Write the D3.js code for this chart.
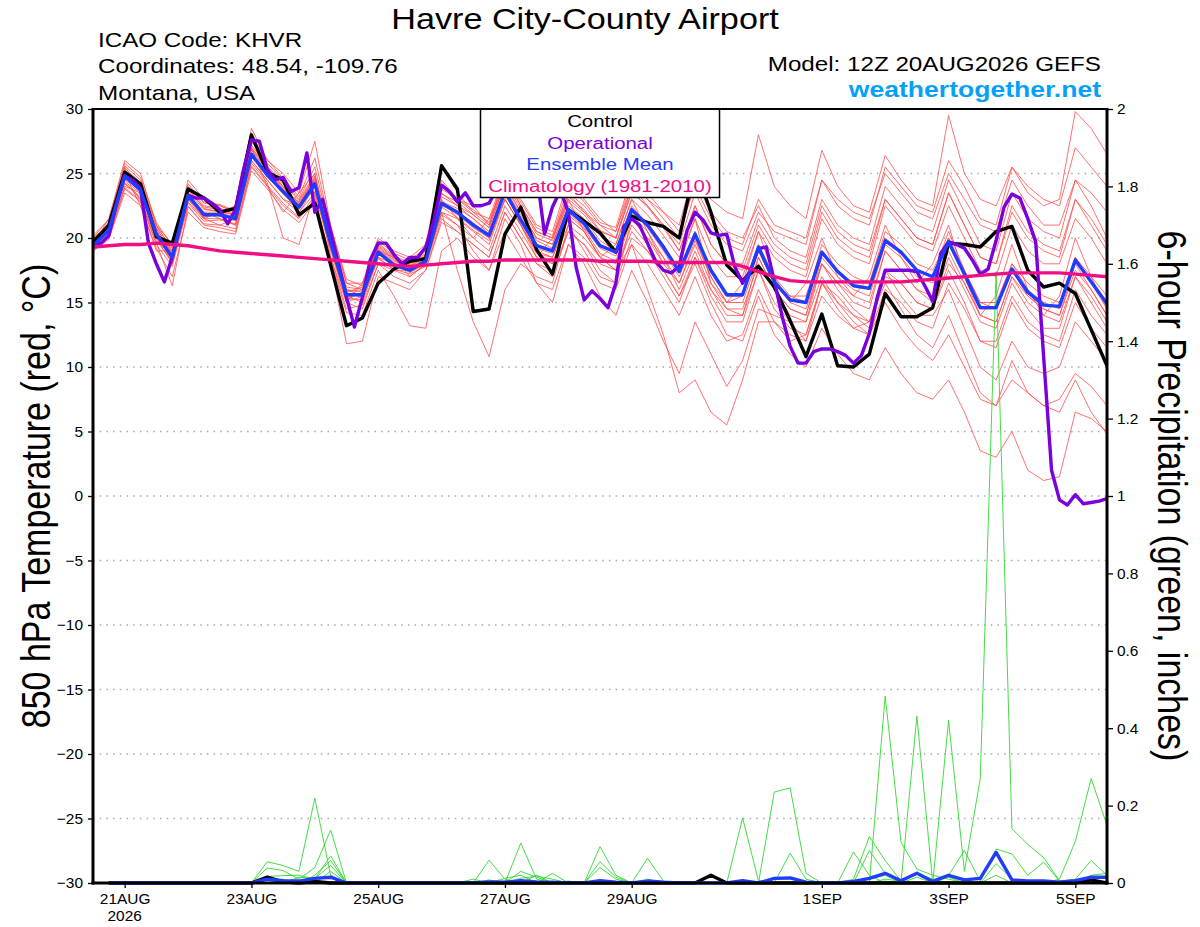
<!DOCTYPE html>
<html>
<head>
<meta charset="utf-8">
<script src="https://cdn.jsdelivr.net/npm/d3@7"></script>
<style>
  body { margin: 0; background: #fff; }
  svg { font-family: "Liberation Sans", Arial, Helvetica, sans-serif; }
</style>
</head>
<body>
<svg id="chart" width="1200" height="927"></svg>
<script>
// forecast run 12Z 20AUG2026, 6-hourly ensemble steps, 3-hourly operational
const startTime = Date.UTC(2026, 7, 20, 12);
const hours6 = d3.range(0, 385, 6);
const hours3 = d3.range(0, 385, 3);
const precipHours = d3.range(6, 385, 6); // accumulations end at each step

const tickDays = [Date.UTC(2026,7,21), Date.UTC(2026,7,23), Date.UTC(2026,7,25), Date.UTC(2026,7,27),
                  Date.UTC(2026,7,29), Date.UTC(2026,8,1), Date.UTC(2026,8,3), Date.UTC(2026,8,5)];
const tickLabels = ["21AUG", "23AUG", "25AUG", "27AUG", "29AUG", "1SEP", "3SEP", "5SEP"];
const tempTicks = [-30, -25, -20, -15, -10, -5, 0, 5, 10, 15, 20, 25, 30];
const precipTicks = [0, 0.2, 0.4, 0.6, 0.8, 1, 1.2, 1.4, 1.6, 1.8, 2];

// 850 hPa temperature, deg C
const control = [19.7,21.0,25.1,24.2,20.1,19.6,23.8,23.1,22.0,22.3,
  28.0,25.1,24.5,21.8,22.7,17.9,13.2,13.8,16.5,17.6,
  18.2,18.4,25.6,23.8,14.3,14.5,20.3,22.4,19.1,17.2,
  22.2,21.3,20.4,18.9,21.7,21.2,20.9,20.0,25.5,22.0,
  17.9,16.7,17.8,16.2,13.6,10.8,14.1,10.1,10.0,11.0,
  15.7,13.9,13.9,14.6,19.6,19.5,19.3,20.5,20.9,17.5,
  16.2,16.5,15.7,12.9,10.1];
const ensMean = [19.4,20.6,24.8,23.7,20.3,18.5,23.3,21.8,21.8,21.5,
  26.5,24.9,23.6,22.4,24.2,19.6,15.6,15.6,18.9,17.9,
  17.5,18.2,22.7,22.0,21.0,20.2,23.6,21.4,19.4,19.0,
  22.2,21.1,19.4,18.9,22.2,21.0,19.3,17.4,20.3,17.5,
  15.6,15.6,19.3,16.6,15.2,15.0,18.9,17.4,16.3,16.1,
  19.8,18.9,17.5,17.0,19.7,17.2,14.6,14.6,17.6,15.8,
  14.8,14.7,18.3,16.6,14.9];
const operational = [19.5,19.6,20.2,22.7,24.8,24.5,23.8,19.6,18.0,16.6,
  18.5,20.9,23.3,23.1,23.1,22.7,22.2,21.1,22.2,25.3,
  27.6,27.5,25.3,24.5,24.7,23.6,23.9,26.6,22.0,23.0,
  20.5,18.0,15.4,13.1,15.4,18.3,19.6,19.6,18.7,18.0,
  18.5,18.5,19.3,21.3,24.1,23.6,22.8,23.5,22.5,22.5,
  22.7,23.8,24.5,24.0,23.5,24.2,25.0,20.3,22.4,23.7,
  22.0,17.7,15.2,15.9,15.3,14.6,16.5,20.9,21.5,21.0,
  19.6,18.2,17.5,17.3,17.8,20.6,22.0,21.4,20.4,20.2,
  20.3,17.8,16.5,17.5,19.2,19.3,16.7,13.9,11.6,10.3,
  10.3,11.2,11.4,11.4,11.2,10.9,10.3,10.9,12.6,15.4,
  17.5,17.5,17.5,17.5,17.4,16.3,15.1,18.8,19.7,19.5,
  19.2,18.3,17.2,17.6,19.8,22.4,23.4,23.1,21.5,19.7,
  10.8,2.0,-0.3,-0.7,0.1,-0.6,-0.5,-0.4,-0.2];
const climatology = [19.3,19.4,19.5,19.5,19.6,19.5,19.4,19.2,19.0,18.9,
  18.8,18.7,18.6,18.5,18.4,18.3,18.2,18.1,18.0,17.9,
  17.8,17.9,18.0,18.1,18.2,18.2,18.3,18.3,18.3,18.3,
  18.3,18.3,18.2,18.2,18.2,18.2,18.1,18.1,18.1,18.1,
  18.1,17.8,17.4,17.0,16.7,16.6,16.6,16.6,16.6,16.6,
  16.6,16.6,16.7,16.8,16.9,17.0,17.1,17.2,17.3,17.3,
  17.3,17.3,17.2,17.1,17.0];

// ensemble members, 850 hPa temperature
const m01 = [19.8,21.2,25.6,24.5,21.0,19.5,24.0,22.8,22.5,22.0,27.5,25.8,24.5,23.0,25.5,20.5,16.5,16.0,19.5,18.5,18.0,19.0,
  24.0,23.0,22.5,21.0,24.5,22.5,20.5,20.0,23.5,22.0,21.0,20.0,24.0,22.5,21.0,19.0,22.5,19.5,18.0,17.5,21.0,
  19.0,18.0,17.5,22.0,20.0,19.0,18.5,23.0,21.5,20.0,19.5,23.5,21.0,18.5,18.0,22.0,20.0,19.0,18.5,23.0,21.5,19.5];
const m02 = [19.0,20.0,23.8,22.8,19.5,17.8,22.5,21.0,20.8,20.5,25.5,24.0,22.5,21.5,23.0,18.5,14.5,14.8,18.0,17.0,16.5,17.5,
  21.5,20.5,19.5,18.5,22.0,20.0,18.0,17.5,20.5,19.5,18.0,17.5,20.5,19.0,17.5,15.5,18.5,15.5,13.5,13.5,17.5,
  14.5,13.0,12.5,16.5,15.0,14.0,13.5,17.5,16.5,15.0,14.5,17.5,15.0,12.0,12.0,15.5,13.5,12.5,12.0,16.0,14.0,12.5];
const m03 = [19.5,21.5,25.0,22.5,19.0,19.0,23.5,21.5,22.0,22.5,27.0,24.0,22.0,23.5,25.0,18.5,15.0,16.5,19.0,18.5,17.0,18.0,
  23.0,21.5,20.0,21.5,24.0,21.0,18.5,20.0,23.0,20.5,18.5,19.5,23.0,20.5,18.0,18.0,21.5,16.5,15.0,16.5,20.5,
  17.0,15.0,16.5,20.0,17.0,15.5,17.0,21.0,18.5,16.5,18.0,21.0,17.0,14.0,15.5,19.5,16.0,14.0,15.5,20.0,17.0,14.5];
const m04 = [20.0,21.0,25.5,24.0,20.5,18.8,23.5,22.0,22.0,21.5,27.0,25.5,24.0,22.5,24.5,20.0,16.0,15.5,19.0,18.0,17.8,18.5,
  23.5,22.5,21.5,20.5,24.0,22.0,20.0,19.5,23.0,22.0,20.5,20.0,23.5,22.5,21.0,19.5,23.5,21.0,19.5,19.0,22.0,
  20.5,20.0,19.5,24.5,22.5,21.5,21.0,25.5,24.0,22.5,22.0,26.0,24.0,21.5,21.0,25.5,23.5,22.5,23.0,29.8,28.5,26.5];
const m05 = [19.2,20.2,24.0,23.5,20.0,18.0,22.8,21.5,21.5,21.0,26.0,24.5,23.0,22.0,23.5,19.0,15.0,15.5,18.5,17.5,17.0,18.0,
  22.0,21.5,20.5,19.5,23.0,21.0,19.0,18.5,21.5,20.5,18.5,17.5,21.0,19.5,17.5,15.5,18.0,15.0,12.5,12.0,15.5,
  12.5,11.0,10.0,13.0,11.0,9.5,9.0,11.5,9.5,8.0,7.5,9.0,6.5,3.5,3.0,5.0,2.0,1.2,1.5,6.5,6.0,5.0];
const m06 = [19.6,20.8,24.5,23.0,20.0,18.5,23.0,22.0,21.5,21.0,26.5,25.0,23.5,22.0,24.0,19.5,15.5,15.0,18.5,18.0,17.5,18.5,
  22.5,22.0,21.0,20.0,23.0,21.0,19.0,18.0,21.5,20.5,18.5,17.5,19.5,16.0,12.5,8.0,9.0,6.5,5.5,9.0,13.5,
  13.5,12.0,12.5,16.5,14.5,13.0,13.5,17.5,15.5,14.0,14.0,16.0,13.0,10.0,9.0,12.0,10.0,9.5,10.0,13.5,12.0,10.5];
const m07 = [19.4,20.5,25.0,24.0,20.5,18.0,23.0,21.5,21.0,21.5,26.0,24.5,23.0,22.5,24.5,20.0,15.0,14.5,18.0,17.5,17.5,18.0,
  22.0,21.0,19.0,17.5,21.5,19.5,16.5,15.0,19.5,18.0,15.5,14.0,17.5,15.0,12.0,9.5,13.5,11.0,8.5,10.5,14.5,
  14.0,13.5,12.0,16.5,15.5,14.0,13.0,17.0,16.5,15.0,14.5,18.0,16.5,14.0,13.5,17.0,15.5,14.5,14.0,17.5,16.0,14.0];
const m08 = [19.8,21.0,24.2,23.2,20.8,18.8,23.8,22.3,22.0,21.8,26.8,25.2,23.8,22.8,24.8,19.8,15.8,16.2,19.2,18.2,17.8,18.6,
  22.0,17.5,13.5,10.8,16.0,18.0,17.0,16.5,21.0,19.0,17.0,16.5,21.5,20.0,18.0,16.5,19.5,16.5,14.5,14.0,18.5,
  16.0,14.5,14.0,18.5,17.0,16.0,15.5,19.5,18.5,17.0,16.5,20.0,17.5,15.0,14.5,18.0,16.5,15.5,15.0,18.5,17.0,15.5];
const m09 = [20.0,21.5,26.0,25.0,21.0,19.0,24.5,23.0,22.5,22.0,28.5,26.0,25.0,23.5,27.5,21.0,16.5,16.5,20.0,19.0,18.5,19.5,
  25.5,23.5,22.0,21.0,25.0,23.0,21.0,20.5,24.5,23.0,21.5,20.5,24.5,23.0,22.0,21.0,25.5,23.0,22.0,21.5,28.0,
  24.0,22.5,21.5,26.8,24.0,22.5,22.0,26.4,24.5,23.0,22.5,29.5,25.0,23.0,22.5,25.5,24.0,23.0,22.5,27.0,25.5,24.0];
const m10 = [19.3,20.4,24.6,23.4,20.1,18.3,23.1,21.6,21.9,21.3,26.4,24.8,23.4,22.2,24.1,19.4,15.2,15.8,19.1,18.1,17.3,18.0,
  22.8,22.3,21.5,20.3,23.8,21.8,19.8,19.2,22.5,21.5,19.8,19.0,22.5,21.0,19.5,17.5,20.5,17.5,15.5,15.5,19.5,
  17.0,15.5,15.5,19.0,17.5,16.5,16.5,20.0,19.0,17.5,17.0,20.5,17.5,15.0,15.0,18.0,16.0,15.0,14.5,18.5,16.5,14.5];
const m11 = [19.5,20.7,24.9,23.8,20.2,18.6,23.4,21.9,21.7,21.6,26.6,25.0,23.7,22.3,24.3,19.7,15.7,15.4,18.8,17.8,17.6,18.3,
  22.6,21.8,20.8,20.0,23.4,21.2,19.2,18.8,22.0,20.8,19.2,18.6,22.0,20.8,19.0,17.0,20.0,17.0,15.0,15.0,18.5,
  16.0,14.0,13.5,17.0,15.0,13.5,12.5,15.0,13.0,11.5,10.5,12.5,10.0,7.5,7.0,9.0,8.0,7.0,7.5,9.5,8.5,7.0];
const m12 = [19.7,20.9,25.2,24.1,20.6,18.7,23.6,22.2,22.1,21.7,26.9,25.3,23.9,22.6,24.6,19.9,15.9,15.9,19.3,18.3,17.7,18.4,
  23.2,22.5,21.8,20.8,24.2,22.0,20.0,19.5,22.8,21.8,20.2,19.5,23.0,21.8,20.2,18.5,21.5,18.5,17.0,17.0,20.5,
  18.5,17.5,17.0,21.5,19.5,18.5,18.0,22.5,21.0,19.5,19.0,22.5,20.0,17.5,17.0,21.0,19.0,18.0,18.0,21.5,20.0,18.0];
const m13 = [19.1,20.3,24.3,23.0,19.8,18.2,22.7,21.3,21.4,21.1,25.8,24.3,20.0,19.5,23.6,19.2,15.3,15.2,18.4,17.6,17.2,17.8,
  21.8,21.0,20.0,19.0,22.5,20.5,18.5,18.0,21.0,20.0,18.5,18.0,21.5,20.0,18.5,16.0,19.0,16.0,14.0,14.0,17.5,
  15.0,13.5,13.5,18.0,16.5,15.0,14.5,19.0,17.5,16.0,15.0,18.5,16.0,13.5,13.0,16.5,14.5,13.0,13.0,17.0,15.0,13.0];
const m14 = [19.9,21.1,25.4,24.3,20.9,19.2,23.9,22.5,22.3,21.9,27.2,25.6,24.2,22.9,25.0,20.2,16.2,16.0,19.6,18.6,18.1,18.8,
  23.8,23.0,22.0,21.5,25.0,22.5,20.5,20.0,23.5,22.5,21.0,20.5,24.0,23.0,21.5,20.0,24.5,22.0,20.5,20.0,22.5,
  20.0,19.0,18.5,23.0,21.0,20.0,19.5,24.0,22.5,21.0,20.5,24.5,22.0,19.5,19.0,23.5,21.5,20.5,20.0,24.5,22.5,20.0];
const m15 = [19.0,19.9,23.5,22.5,19.2,17.0,22.0,20.8,20.5,20.3,25.2,23.8,22.2,21.2,22.8,18.3,14.2,14.0,17.5,15.5,13.2,13.0,
  19.0,20.0,18.5,17.5,20.5,18.5,16.5,16.0,19.5,18.5,16.5,16.0,19.5,18.0,16.0,14.0,17.0,14.0,12.0,12.5,16.0,
  13.5,12.5,12.0,15.5,14.0,13.0,12.5,16.0,15.0,13.5,13.0,16.5,14.5,12.0,11.5,15.0,13.0,12.0,11.5,15.0,13.0,11.5];
const m16 = [19.4,20.6,24.7,23.6,20.4,18.4,23.2,21.7,21.8,21.4,26.3,24.7,23.5,22.3,24.0,19.5,15.4,15.7,18.9,17.9,17.4,18.1,
  22.7,22.0,21.2,20.2,23.5,21.5,19.5,19.0,22.2,21.2,19.5,19.0,22.3,21.2,19.5,17.5,20.5,17.5,15.5,15.5,19.0,
  16.5,15.0,14.5,18.0,16.0,14.5,13.5,16.5,14.5,12.5,11.5,14.0,11.0,8.0,7.0,10.5,8.0,7.0,6.5,9.0,6.5,4.8];
const m17 = [19.6,20.7,25.0,23.9,20.3,18.5,23.3,21.8,21.9,21.5,26.6,24.9,23.6,22.4,24.3,19.6,15.6,15.6,18.9,17.9,17.5,18.2,
  22.4,21.6,20.6,19.8,23.0,21.0,18.8,18.5,21.8,20.7,18.8,18.2,21.8,20.5,18.5,16.5,19.8,17.0,15.0,15.5,19.0,
  16.5,15.5,15.0,19.5,18.0,17.0,16.5,20.5,19.5,18.0,17.5,20.0,17.0,14.5,14.5,17.5,15.5,14.5,14.0,18.0,16.0,14.0];
const m18 = [20.2,21.4,25.8,24.7,21.2,19.4,24.2,22.7,22.6,22.1,27.8,26.1,24.6,23.2,26.2,20.8,16.8,16.3,19.8,18.8,18.3,19.2,
  24.5,23.0,22.2,21.2,24.8,22.8,20.8,20.2,24.0,22.8,21.2,20.8,24.8,23.5,22.0,20.5,24.0,21.5,20.0,19.5,23.0,
  21.0,20.5,20.0,24.5,23.0,22.0,21.5,25.0,23.5,22.0,21.5,25.0,23.0,21.0,20.5,24.5,22.5,21.0,21.0,24.5,23.5,22.0];
const m19 = [19.2,20.1,23.9,22.9,19.6,16.3,22.4,21.1,21.0,20.7,25.6,24.1,22.7,21.6,23.3,18.0,11.8,12.0,17.0,16.5,16.0,17.5,
  21.2,20.5,19.5,18.5,22.0,20.0,18.0,17.0,20.5,19.5,17.5,16.5,20.0,19.0,17.0,15.0,18.5,16.0,14.5,14.5,18.0,
  16.0,14.5,14.0,18.0,16.5,15.5,15.0,19.0,17.5,16.0,15.5,19.0,16.5,14.0,13.5,17.0,15.0,14.0,13.5,17.0,15.5,13.5];
const m20 = [19.8,21.0,25.3,24.2,20.7,19.0,23.7,22.4,22.2,21.8,27.0,25.4,24.0,22.7,24.7,20.1,16.0,15.8,19.4,18.4,17.9,18.7,
  23.4,22.8,21.8,20.8,24.3,22.3,20.3,19.8,23.2,22.2,20.6,20.0,23.6,22.4,20.8,19.0,22.5,19.5,18.0,18.0,21.5,
  19.5,18.5,18.0,22.5,20.5,19.5,19.0,23.0,21.5,20.0,19.5,23.5,21.0,18.5,18.0,22.5,20.5,19.5,19.0,23.0,21.0,19.0];
const members = [m01, m02, m03, m04, m05, m06, m07, m08, m09, m10, m11, m12, m13, m14, m15, m16, m17, m18, m19, m20];

// 6-hour precipitation, inches, steps ending at +6h ... +384h
const p01 = [0,0,0,0,0,0,0,0,0, 0,.055,.045,.03,.219,.02,0,0,0,0, 0,0,0,0,0,.059,.01,0,.02,0,
  0,0,0,0,0,.064,.005,0,0,0, 0,.168,.006,0,0,0,0,0,0,0, .005,0,0,0,0,0,0,0,0,0, 0,0,0,0,0];
const p02 = [0,0,0,0,0,0,0,0,0, 0,.039,.032,.01,.04,.137,0,0,0,0, 0,0,0,0,0,0,0,.103,.01,0,
  0,0,0,0,0,0,0,0,0,0, 0,0,0,.235,.246,.025,0,0,0,0, 0,0,0,0,0,0,0,0,0,0, 0,0,0,0,0];
const p03 = [0,0,0,0,0,0,0,0,0, 0,.017,.019,.02,.01,.07,0,0,0,0, 0,0,0,0,.01,0,0,.03,.015,0,
  0,0,.04,.01,0,0,0,0,0,0, 0,0,0,0,.077,.01,0,0,0,.084, .025,0,0,0,0,0,0,0,0,0, 0,0,0,0,0];
const p04 = [0,0,0,0,0,0,0,0,0, 0,0,.01,0,.02,.058,0,0,0,0, 0,0,.003,.003,0,0,0,0,0,.025,
  0,0,.094,.02,0,0,0,0,0,0, 0,0,0,0,0,0,0,0,.08,.02, 0,0,0,0,0,0,0,0,0,0, 0,0,0,0,0];
const p05 = [0,0,0,0,0,0,0,0,0, 0,0,0,.015,.012,.045,0,0,0,0, 0,0,0,0,0,0,.012,.02,0,0,
  0,0,.055,.015,0,0,0,0,0,0, 0,0,0,0,0,0,0,0,.01,.12, .058,.005,0,0,0,0,0,0,0,0, 0,0,0,0,0];
const p06 = [0,0,0,0,0,0,0,0,0, 0,.008,0,0,0,.03,0,0,0,0, 0,0,0,0,0,.008,0,.012,.018,.01,
  0,0,0,0,0,0,0,0,0,0, 0,0,0,0,0,0,0,0,0,0, .483,.105,.036,.02,.01,0,0,.02,0,0, 0,0,0,0,0];
const p07 = [0,0,0,0,0,0,0,0,0, 0,0,0,0,0,0,0,0,0,0, 0,0,0,0,0,0,0,0,0,0,
  0,0,0,0,0,0,0,0,0,0, 0,0,0,0,0,0,0,0,0,0, 0,0,.431,0,.42,.03,.27,1.58,.14,.1, .066,.006,0,0,0];
const p08 = [0,0,0,0,0,0,0,0,0, 0,0,0,0,0,0,0,0,0,0, 0,0,0,0,0,0,0,0,0,0,
  0,0,0,0,0,.01,0,0,0,0, 0,0,0,0,0,0,0,0,0,0, 0,0,0,0,.02,.084,.005,.088,.075,.02, .054,.005,.01,.058,.02];
const p09 = [0,0,0,0,0,0,0,0,0, 0,0,0,0,0,0,0,0,0,0, 0,0,0,0,0,0,0,0,0,0,
  0,0,0,0,0,0,0,0,0,0, 0,0,0,0,0,0,0,0,0,0, .01,.005,.025,.01,0,0,0,0,0,0, 0,.01,.107,.27,.149];
const p10 = [0,0,0,0,0,0,0,0,0, 0,0,0,0,0,0,0,0,0,0, 0,0,0,0,0,0,.005,0,0,0,
  .005,0,0,0,0,0,.004,0,0,0, 0,0,0,0,0,0,0,0,0,.01, .02,0,.015,0,.015,0,0,.05,.01,0, 0,0,0,.02,.025];
const precipMembers = [p01, p02, p03, p04, p05, p06, p07, p08, p09, p10];
const precipControl = [0,0,0,0,0,0,0,0,0, 0,.015,.003,0,.004,0,0,0,0,0, 0,0,0,0,0,0,0,0,0,0,
  0,0,0,0,0,0,0,0,0,.02, 0,0,0,0,0,0,0,0,0,0, 0,0,0,0,0,0,0,0,0,0, 0,0,0,.008,0];
const precipMean = [0,0,0,0,0,0,0,0,0, 0,.01,.006,.005,.012,.015,0,0,0,0, 0,0,0,0,0,.003,.002,.006,.003,.002,
  0,0,.006,.002,0,.005,.002,0,0,0, 0,.006,0,.012,.013,.002,0,0,.004,.012,
  .025,.006,.025,.004,.02,.008,.012,.079,.008,.005, .005,.002,.006,.015,.015];

const SX = 1.18;     // the reference's header text is drawn wide
const SX_TICK = 1.03;
const svg = d3.select("#chart");
const plotLeft = 93, plotRight = 1107, plotTop = 109, plotBottom = 883;

const toDate = h => new Date(startTime + h * 3600e3);
const x = d3.scaleUtc().domain([toDate(0), toDate(384)]).range([plotLeft, plotRight]);
const yT = d3.scaleLinear().domain([-30, 30]).range([plotBottom, plotTop]);
const yP = d3.scaleLinear().domain([0, 2]).range([plotBottom, plotTop]);

function put(x0, y0, str, size, opts = {}) {
  return svg.append("text")
    .attr("transform", `translate(${x0},${y0}) scale(${opts.sx || SX},1)`)
    .attr("text-anchor", opts.anchor || "start")
    .attr("font-size", size)
    .attr("font-weight", opts.weight || "normal")
    .attr("fill", opts.color || "#000")
    .text(str);
}
function widen(g, sx) {
  g.selectAll("text").each(function () {
    const t = d3.select(this);
    t.attr("x", (+t.attr("x") || 0) / sx).attr("transform", `scale(${sx},1)`);
  });
}

// grid
svg.append("g").selectAll("line")
  .data(tempTicks.filter(v => v > -30 && v < 30))
  .join("line")
  .attr("x1", plotLeft).attr("x2", plotRight)
  .attr("y1", d => yT(d)).attr("y2", d => yT(d))
  .attr("stroke", "#a8a8a8").attr("stroke-width", 1.3)
  .attr("stroke-dasharray", "1.5,5.2");

svg.append("clipPath").attr("id", "plot")
  .append("rect").attr("x", plotLeft).attr("y", plotTop)
  .attr("width", plotRight - plotLeft).attr("height", plotBottom - plotTop + 2);
const plot = svg.append("g").attr("clip-path", "url(#plot)");

const lineT = d3.line().x((d, i) => x(toDate(hours6[i]))).y(d => yT(d));
const lineOp = d3.line().x((d, i) => x(toDate(hours3[i]))).y(d => yT(d));
const lineP = d3.line().x((d, i) => x(toDate(precipHours[i]))).y(d => yP(d));

plot.append("g").selectAll("path").data(members).join("path")
  .attr("d", lineT).attr("fill", "none")
  .attr("stroke", "#ff4f4f").attr("stroke-width", 0.9).attr("stroke-opacity", 0.9);

plot.append("g").selectAll("path").data(precipMembers).join("path")
  .attr("d", lineP).attr("fill", "none")
  .attr("stroke", "#30d830").attr("stroke-width", 0.9);

const thick = (data, gen, color) => plot.append("path").datum(data).attr("d", gen)
  .attr("fill", "none").attr("stroke", color).attr("stroke-width", 3.4)
  .attr("stroke-linejoin", "round");

thick(precipControl, lineP, "#000");
thick(precipMean, lineP, "#1f3cff");
thick(control, lineT, "#000");
thick(operational, lineOp, "#7a00dc");
thick(ensMean, lineT, "#1f3cff");
thick(climatology, lineT, "#ee0f85");

// legend
svg.append("rect").attr("x", 480.5).attr("y", plotTop).attr("width", 239).attr("height", 88.5)
  .attr("fill", "#fff").attr("stroke", "#000").attr("stroke-width", 1.5);
const legendItems = ["Control", "Operational", "Ensemble Mean", "Climatology (1981-2010)"];
const legendColors = ["#000", "#7a00dc", "#1f3cff", "#ee0f85"];
legendItems.forEach((t, i) => put(600, 127 + i * 21.6, t, 17.3, { anchor: "middle", color: legendColors[i] }));

// axes
const axL = svg.append("g").attr("transform", `translate(${plotLeft},0)`)
  .call(d3.axisLeft(yT).tickValues(tempTicks).tickSize(5).tickPadding(5).tickFormat(d3.format("d")));
const axR = svg.append("g").attr("transform", `translate(${plotRight},0)`)
  .call(d3.axisRight(yP).tickValues(precipTicks).tickSize(6).tickPadding(4).tickFormat(d => String(+d.toFixed(1))));
const axB = svg.append("g").attr("transform", `translate(0,${plotBottom})`)
  .call(d3.axisBottom(x).tickValues(tickDays.map(d => new Date(d))).tickSize(5).tickPadding(5)
    .tickFormat((d, i) => tickLabels[i]));
[axL, axR, axB].forEach(g => {
  g.select(".domain").remove();
  g.selectAll(".tick line").attr("stroke", "#000").attr("stroke-width", 1.3);
  g.selectAll("text").attr("font-size", 15).attr("fill", "#000")
    .attr("font-family", "'Liberation Sans', Arial, sans-serif");
  widen(g, SX_TICK);
});
put(x(new Date(tickDays[0])), 921, "2026", 15, { anchor: "middle", sx: SX_TICK });

// frame
svg.append("line").attr("x1", plotLeft).attr("x2", plotRight).attr("y1", plotTop).attr("y2", plotTop)
  .attr("stroke", "#000").attr("stroke-width", 2);
[[plotLeft, plotTop - 1, plotLeft, plotBottom + 1.5], [plotRight, plotTop - 1, plotRight, plotBottom + 1.5],
 [plotLeft - 1.5, plotBottom, plotRight + 1.5, plotBottom]]
  .forEach(([x1, y1, x2, y2]) => svg.append("line")
    .attr("x1", x1).attr("y1", y1).attr("x2", x2).attr("y2", y2)
    .attr("stroke", "#000").attr("stroke-width", 3));

// titles
put(585, 29, "Havre City-County Airport", 30, { anchor: "middle", sx: 1.14 });
put(98, 46.5, "ICAO Code: KHVR", 20.5);
put(98, 73, "Coordinates: 48.54, -109.76", 20.5);
put(98, 99.5, "Montana, USA", 20.5);
put(1101, 71, "Model: 12Z 20AUG2026 GEFS", 20.5, { anchor: "end" });
put(1101, 97, "weathertogether.net", 22.5, { anchor: "end", weight: "bold", color: "#07a0f7" });

svg.append("text")
  .attr("transform", `translate(50,496) rotate(-90) scale(1,${SX})`)
  .attr("text-anchor", "middle").attr("font-size", 34)
  .text("850 hPa Temperature (red, °C)");
svg.append("text")
  .attr("transform", `translate(1158,496) rotate(90) scale(1,${SX})`)
  .attr("text-anchor", "middle").attr("font-size", 34)
  .text("6-hour Precipitation (green, inches)");
</script>
</body>
</html>
